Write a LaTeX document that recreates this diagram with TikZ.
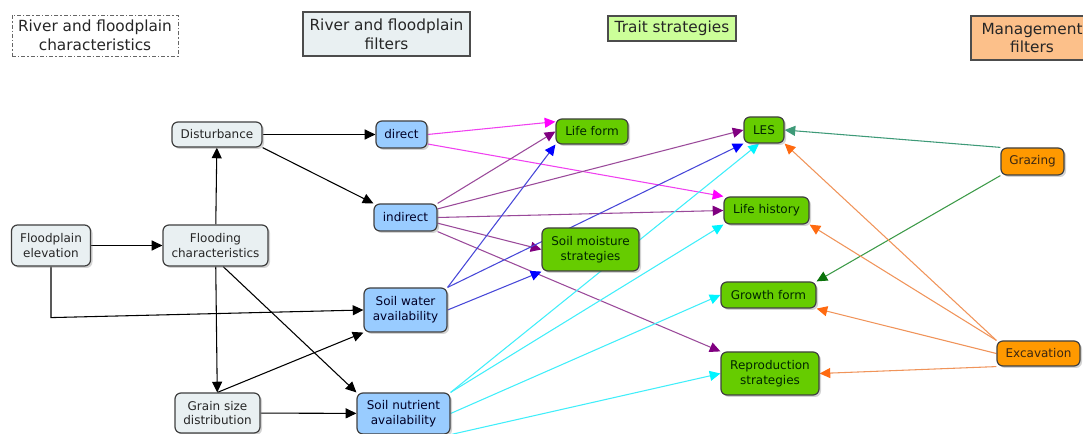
\documentclass[tikz,border=0pt]{standalone}
\usepackage{fontspec}
\setmainfont{DejaVu Sans}
\usepackage{tikz}
\usetikzlibrary{positioning, arrows.meta, shapes, shadows, backgrounds}
\definecolor{charfill}{HTML}{E9F0F2}
\definecolor{filtfill}{HTML}{99CCFF}
\definecolor{traitfill}{HTML}{66CC00}
\definecolor{manfill}{HTML}{FF9900}
\definecolor{traithead}{HTML}{CCFF99}
\definecolor{manhead}{HTML}{FCC08A}
\definecolor{magline}{HTML}{F040F0}
\definecolor{magtip}{HTML}{FF00FF}
\definecolor{purpline}{HTML}{9A4A9A}
\definecolor{purptip}{HTML}{800080}
\definecolor{blueline}{HTML}{4848D8}
\definecolor{bluetip}{HTML}{0000FF}
\definecolor{cyanline}{HTML}{40EEFA}
\definecolor{cyantip}{HTML}{00F4FF}
\definecolor{tealline}{HTML}{3E9A78}
\definecolor{greenline}{HTML}{3C9A48}
\definecolor{greentip}{HTML}{0B730B}
\definecolor{orangeline}{HTML}{F0945A}
\definecolor{orangetip}{HTML}{FF6A10}
\tikzstyle{arrow} = [line width=0.8pt,-{Triangle[length=8pt,width=7.5pt]}]
\tikzstyle{magarrow} = [line width=0.8pt,draw=magline,-{Triangle[length=8pt,width=7.5pt,color=magtip]}]
\tikzstyle{purparrow} = [line width=0.8pt,draw=purpline,-{Triangle[length=8pt,width=7.5pt,color=purptip]}]
\tikzstyle{bluearrow} = [line width=0.8pt,draw=blueline,-{Triangle[length=8pt,width=7.5pt,color=bluetip]}]
\tikzstyle{cyanarrow} = [line width=0.8pt,draw=cyanline,-{Triangle[length=8pt,width=7.5pt,color=cyantip]}]
\tikzstyle{tealarrow} = [line width=0.8pt,draw=tealline,-{Triangle[length=8pt,width=7.5pt,color=tealline]}]
\tikzstyle{greenarrow} = [line width=0.8pt,draw=greenline,-{Triangle[length=8pt,width=7.5pt,color=greentip]}]
\tikzstyle{orangearrow} = [line width=0.8pt,draw=orangeline,-{Triangle[length=8pt,width=7.5pt,color=orangetip]}]
\tikzstyle{box} = [rectangle, rounded corners=4.5pt, minimum height=19.5pt, inner sep=2pt, align=center, draw=black!75, line width=0.9pt, font=\fontsize{9}{11}\selectfont, drop shadow={shadow xshift=1.5pt, shadow yshift=-1.5pt, opacity=0.35}]
\tikzstyle{charbox} = [box, fill=charfill, text=black!85]
\tikzstyle{filtbox} = [box, fill=filtfill, text=blue!15!black]
\tikzstyle{traitbox} = [box, fill=traitfill, text=green!15!black]
\tikzstyle{manbox} = [box, fill=manfill, text=brown!30!black]
\tikzstyle{heading} = [rectangle, inner sep=2pt, align=center, text=black!85, font=\fontsize{11.5}{14}\selectfont]

\begin{document}
\begin{tikzpicture}[x=0.75pt, y=-0.75pt]
        \useasboundingbox (0,0) rectangle (1083,434);

        % column headings
        \node (charhead) [heading, draw=black!60, dash pattern=on 3pt off 1.5pt on 1pt off 1.5pt, minimum width=124.5pt, minimum height=30.75pt] at (95,35.5) {River and floodplain\\characteristics};
        \node (filthead) [heading, draw=black!70, line width=0.8pt, fill=charfill, minimum width=125.25pt, minimum height=33pt] at (386.5,34) {River and floodplain\\filters};
        \node (traithd) [heading, draw=black!70, line width=0.8pt, fill=traithead, minimum width=96pt, minimum height=18.75pt] at (672,28.5) {Trait strategies};
        \node (manhd) [heading, draw=black!70, line width=0.8pt, fill=manhead, minimum width=91.5pt, minimum height=33pt] at (1032,38) {Management\\filters};

        % river and floodplain characteristics
        \node (elev) [charbox, minimum width=59.25pt, minimum height=30.75pt] at (51,245.5) {Floodplain\\elevation};
        \node (flood) [charbox, minimum width=78.75pt, minimum height=30.75pt] at (215.5,245.5) {Flooding\\characteristics};
        \node (disturb) [charbox, minimum width=67.5pt, minimum height=18.75pt] at (217,134.5) {Disturbance};
        \node (grain) [charbox, minimum width=63.75pt, minimum height=30pt] at (217.5,413) {Grain size\\distribution};

        % river and floodplain filters
        \node (direct) [filtbox, minimum width=38.25pt, minimum height=20.25pt] at (401.5,134.5) {direct};
        \node (indirect) [filtbox, minimum width=47.25pt, minimum height=20.25pt] at (405.5,217.5) {indirect};
        \node (water) [filtbox, minimum width=62.25pt, minimum height=33pt] at (405.5,310) {Soil water\\availability};
        \node (nutrient) [filtbox, minimum width=69.75pt, minimum height=30.75pt] at (403.5,413.5) {Soil nutrient\\availability};

        % trait strategies
        \node (lifeform) [traitbox, minimum width=54pt, minimum height=18.75pt] at (592,131.5) {Life form};
        \node (soilmoist) [traitbox, minimum width=72.75pt, minimum height=32.25pt] at (590.5,249.5) {Soil moisture\\strategies};
        \node (les) [traitbox, minimum width=30pt, minimum height=19.5pt] at (764,130) {LES};
        \node (lifehist) [traitbox, minimum width=63.75pt, minimum height=20.25pt] at (766.5,210.5) {Life history};
        \node (growth) [traitbox, minimum width=71.25pt, minimum height=19.5pt] at (768.5,295) {Growth form};
        \node (repro) [traitbox, minimum width=73.5pt, minimum height=32.25pt] at (770,373.5) {Reproduction\\strategies};

        % management filters
        \node (grazing) [manbox, minimum width=47.25pt, minimum height=20.25pt] at (1032.5,161.5) {Grazing};
        \node (excav) [manbox, minimum width=62.25pt, minimum height=18.75pt] at (1038.5,353.5) {Excavation};

        \begin{pgfonlayer}{background}
        \draw [arrow] (elev) -- (flood);
        \draw [arrow] (flood) -- (disturb);
        \draw [arrow] (flood) -- (grain);
        \draw [arrow] (flood.290) -- (nutrient.north west);
        \draw [arrow] (elev.south) -- ++(0,51) -- (water.west);
        \draw [arrow] (disturb) -- (direct);
        \draw [arrow] (disturb.south east) -- (indirect.north west);
        \draw [arrow] (grain.north) -- (water.south west);
        \draw [arrow] (grain) -- (nutrient);

        \draw [magarrow] (direct.east) -- (lifeform.165);
        \draw [magarrow] (direct.-20) -- (lifehist.north west);

        \draw [purparrow] (indirect.north east) -- (lifeform.west);
        \draw [purparrow] (indirect.15) -- (les.west);
        \draw [purparrow] (indirect.east) -- (lifehist.west);
        \draw [purparrow] (indirect.-10) -- (soilmoist.west);
        \draw [purparrow] (indirect.south east) -- (repro.north west);

        \draw [bluearrow] (water.north east) -- (lifeform.south west);
        \draw [bluearrow] (water.north east) -- (les.south west);
        \draw [bluearrow] (water.east) -- (soilmoist.south west);

        \draw [cyanarrow] (nutrient.north east) -- (les.250);
        \draw [cyanarrow] (nutrient.north east) -- (lifehist.south west);
        \draw [cyanarrow] (nutrient.east) -- (growth.west);
        \draw [cyanarrow] (nutrient.south east) -- (repro.west);

        \draw [tealarrow] (grazing.north west) -- (les.east);
        \draw [greenarrow] (grazing.south west) -- (growth.north east);

        \draw [orangearrow] (excav.north west) -- (les.south east);
        \draw [orangearrow] (excav.north west) -- (lifehist.south east);
        \draw [orangearrow] (excav.west) -- (growth.south east);
        \draw [orangearrow] (excav.south west) -- (repro.east);
        \end{pgfonlayer}

        \end{tikzpicture}
\end{document}
